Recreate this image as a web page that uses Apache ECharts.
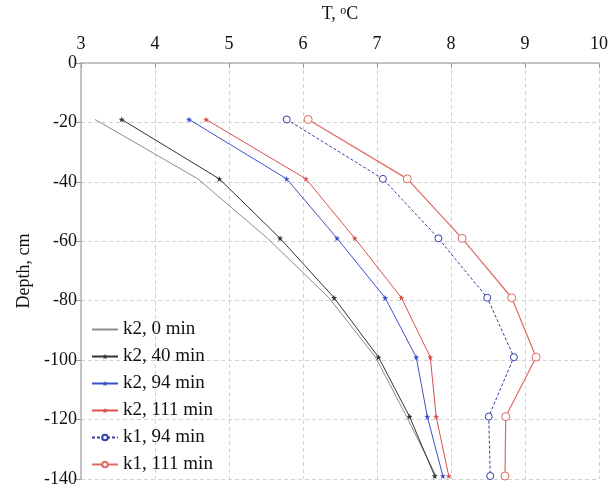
<!DOCTYPE html>
<html>
<head>
<meta charset="utf-8">
<script src="https://cdn.jsdelivr.net/npm/echarts@6/dist/echarts.min.js"></script>
<style>
html,body{margin:0;padding:0;background:#fff;}
#chart{width:611px;height:489px;}
</style>
</head>
<body>
<div id="chart"></div>
<script>
// depth of each measurement, cm
var depths = [-19, -39, -59, -79, -99, -119, -139]
// temperatures, °C
var k2_0 = [3.19, 4.58, 5.52, 6.35, 6.98, 7.40, 7.80]
var k2_40 = [3.55, 4.87, 5.69, 6.42, 7.02, 7.44, 7.78]
var k2_94 = [4.46, 5.78, 6.46, 7.11, 7.53, 7.68, 7.89]
var k2_111 = [4.69, 6.04, 6.70, 7.33, 7.72, 7.80, 7.97]
var k1_94 = [5.78, 7.08, 7.83, 8.49, 8.85, 8.51, 8.53]
var k1_111 = [6.07, 7.41, 8.15, 8.82, 9.15, 8.74, 8.73]
var names = ["k2, 0 min", "k2, 40 min", "k2, 94 min", "k2, 111 min", "k1, 94 min", "k1, 111 min"]

var star = "path://M0,-10L2.4,-3.2L9.5,-3.1L3.8,1.2L5.9,8.1L0,4L-5.9,8.1L-3.8,1.2L-9.5,-3.1L-2.4,-3.2Z"
var font = "Liberation Serif"

function pairs(temps){
	return temps.map((t, i) => [t, depths[i]])
}

function makeSeries(name, temps, color, symbol, size, lineType, width){
	var open = symbol === "circle"
	return {
		name: name,
		type: "line",
		data: pairs(temps),
		symbol: symbol,
		symbolSize: size,
		showSymbol: size > 0,
		itemStyle: open ? {color: "#fff", borderColor: color, borderWidth: 1} : {color: color},
		lineStyle: {color: color, width: width, type: lineType},
		emphasis: {disabled: true},
		animation: false
	}
}

var series = [
	makeSeries(names[0], k2_0, "#8c8c8c", "rect", 0, "solid", 1),
	makeSeries(names[1], k2_40, "#333333", star, 6, "solid", 1),
	makeSeries(names[2], k2_94, "#3b4fc8", star, 6, "solid", 1),
	makeSeries(names[3], k2_111, "#d9504c", star, 6, "solid", 1),
	makeSeries(names[4], k1_94, "#3240a8", "circle", 7, [3, 2], 1),
	makeSeries(names[5], k1_111, "#e06a63", "circle", 8, "solid", 1.2)
]

var gridLine = {show: true, lineStyle: {color: "#d2d2d2", type: [4, 3], width: 1}}

var legendData = names.map((n, i) => i === 0 ? {name: n, itemStyle: {opacity: 0}} : {name: n})

var option = {
	backgroundColor: "#fff",
	textStyle: {fontFamily: font},
	grid: {left: 81, right: 9, top: 63, bottom: 10},
	legend: {
		data: legendData,
		orient: "vertical",
		left: 86,
		top: 315,
		itemGap: 8,
		itemWidth: 26,
		itemHeight: 7,
		textStyle: {fontFamily: font, fontSize: 19, color: "#111"},
		selectedMode: false
	},
	xAxis: {
		type: "value",
		position: "top",
		min: 3,
		max: 10,
		interval: 1,
		name: "T, {s|o}C",
		nameLocation: "middle",
		nameGap: 40,
		nameTextStyle: {
			fontFamily: font, fontSize: 18, color: "#111",
			rich: {s: {fontFamily: font, fontSize: 12, verticalAlign: "top", padding: [0, 0, 6, 0]}}
		},
		axisLine: {show: true, lineStyle: {color: "#b5b5b5", width: 1.5}},
		axisTick: {show: true, inside: true, length: 5, lineStyle: {color: "#999"}},
		axisLabel: {fontFamily: font, fontSize: 18, color: "#111", margin: 10},
		splitLine: gridLine
	},
	yAxis: {
		type: "value",
		min: -140,
		max: 0,
		interval: 20,
		name: "Depth, cm",
		nameLocation: "middle",
		nameGap: 48,
		nameTextStyle: {fontFamily: font, fontSize: 18, color: "#111"},
		axisLine: {show: true, lineStyle: {color: "#b5b5b5", width: 1.5}},
		axisTick: {show: true, length: 5, lineStyle: {color: "#999"}},
		axisLabel: {fontFamily: font, fontSize: 18, color: "#111", margin: 4},
		splitLine: gridLine
	},
	series: series
}

var myChart = echarts.init(document.getElementById("chart"))
myChart.setOption(option)
</script>
</body>
</html>
